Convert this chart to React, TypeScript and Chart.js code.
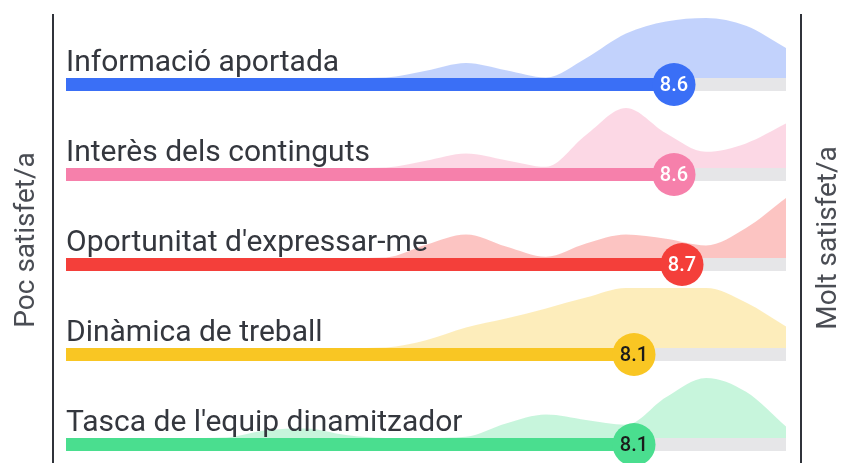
import React, { useEffect, useRef } from "react";
import { Chart, registerables } from "chart.js";

Chart.register(...registerables);

// ---- data ----
const categories = [
  "Informació aportada",
  "Interès dels continguts",
  "Oportunitat d'expressar-me",
  "Dinàmica de treball",
  "Tasca de l'equip dinamitzador",
];
const scores = [8.6, 8.6, 8.7, 8.1, 8.1];
const scaleMin = 1;
const scaleMax = 10;
const sideLabels = ["Poc satisfet/a", "Molt satisfet/a"];

// density sample positions on the 1-10 scale
const densityX = [1, 1.5, 2, 2.5, 3, 3.5, 4, 4.5, 5, 5.5, 6, 6.5, 7, 7.5, 8, 8.5, 9, 9.5, 10];
// relative density (0-100) for each category
const densityInformacio = [0, 0, 0, 0, 0, 0, 0, 0, 1, 12, 25, 13, 1, 33, 74, 94, 100, 87, 50];
const densityInteres = [0, 0, 0, 0, 0, 0, 0, 0, 1, 12, 24, 13, 2, 55, 100, 58, 27, 41, 74];
const densityOportunitat = [0, 0, 0, 0, 0, 0, 0, 0, 1, 22, 39, 19, 2, 24, 39, 32, 21, 50, 100];
const densityDinamica = [0, 0, 0, 0, 0, 0, 0, 0, 1, 13, 34, 49, 66, 84, 100, 100, 100, 76, 36];
const densityTasca = [0, 0, 0, 0, 1, 13, 16, 5, 0, 0, 2, 24, 39, 30, 22, 68, 100, 77, 19];

const densities = [densityInformacio, densityInteres, densityOportunitat, densityDinamica, densityTasca];

// ---- styles ----
const barColors = ["#3a6ff6", "#f680ab", "#f43f3a", "#f9c623", "#4ade8f"];
const areaColors = [
  "rgba(58,111,246,0.31)",
  "rgba(246,128,171,0.31)",
  "rgba(244,63,58,0.31)",
  "rgba(249,198,35,0.31)",
  "rgba(74,222,143,0.31)",
];
const valueTextColors = ["#ffffff", "#ffffff", "#ffffff", "#1b1b1b", "#1b1b1b"];
const trackColor = "#e6e6e8";

const W = 843;
const H = 463;
const ROW_START = 84.5; // px center of first bar
const ROW_GAP = 90;
const BAR_W = 13;
const DENS_H = 60;
const DOT_R = 21.5;

const rowCenter = (i: number) => ROW_START + ROW_GAP * i;
const rowTop = (i: number) => rowCenter(i) - BAR_W / 2;

const decorPlugin = {
  id: "decor",
  afterDatasetsDraw(chart: any) {
    const { ctx, chartArea, scales } = chart;
    const xs = scales.x;
    const ys = scales.y;
    ctx.save();

    // vertical frame lines
    ctx.strokeStyle = "#30333a";
    ctx.lineWidth = 2;
    ctx.beginPath();
    ctx.moveTo(chartArea.left - 13, 14);
    ctx.lineTo(chartArea.left - 13, H);
    ctx.moveTo(chartArea.right + 15, 14);
    ctx.lineTo(chartArea.right + 15, H);
    ctx.stroke();

    // category labels
    ctx.font = "400 30px Roboto";
    ctx.fillStyle = "#34373e";
    ctx.textAlign = "left";
    ctx.textBaseline = "alphabetic";
    categories.forEach((c, i) => {
      ctx.fillText(c, xs.getPixelForValue(scaleMin), ys.getPixelForValue(rowTop(i) - 7));
    });

    // values inside circles
    ctx.font = "500 20px Roboto";
    ctx.textAlign = "center";
    ctx.textBaseline = "middle";
    scores.forEach((s, i) => {
      ctx.fillStyle = valueTextColors[i];
      ctx.fillText(s.toFixed(1), xs.getPixelForValue(s), ys.getPixelForValue(rowCenter(i)) + 1);
    });

    // side labels
    ctx.font = "400 28px Roboto";
    ctx.fillStyle = "#4a4d54";
    ctx.textAlign = "center";
    ctx.textBaseline = "middle";
    ctx.save();
    ctx.translate(27, 240);
    ctx.rotate(-Math.PI / 2);
    ctx.fillText(sideLabels[0], 0, 0);
    ctx.restore();
    ctx.save();
    ctx.translate(829, 238);
    ctx.rotate(-Math.PI / 2);
    ctx.fillText(sideLabels[1], 0, 0);
    ctx.restore();

    ctx.restore();
  },
};

export default function App() {
  const ref = useRef<HTMLCanvasElement | null>(null);

  useEffect(() => {
    if (!ref.current) return;
    const datasets: any[] = [];
    categories.forEach((_, i) => {
      datasets.push({
        type: "line",
        data: densityX.map((x, k) => ({ x, y: rowTop(i) - (densities[i][k] / 100) * DENS_H })),
        fill: { value: rowTop(i) },
        backgroundColor: areaColors[i],
        borderColor: "rgba(0,0,0,0)",
        borderWidth: 0,
        pointRadius: 0,
        cubicInterpolationMode: "monotone",
        order: 4,
      });
      datasets.push({
        type: "line",
        data: [
          { x: scaleMin, y: rowCenter(i) },
          { x: scaleMax, y: rowCenter(i) },
        ],
        borderColor: trackColor,
        borderWidth: BAR_W,
        borderCapStyle: "butt",
        pointRadius: 0,
        fill: false,
        order: 3,
      });
      datasets.push({
        type: "line",
        data: [
          { x: scaleMin, y: rowCenter(i) },
          { x: scores[i], y: rowCenter(i) },
        ],
        borderColor: barColors[i],
        borderWidth: BAR_W,
        borderCapStyle: "butt",
        pointRadius: 0,
        fill: false,
        order: 2,
      });
      datasets.push({
        type: "line",
        data: [{ x: scores[i], y: rowCenter(i) }],
        showLine: false,
        pointRadius: DOT_R,
        pointBackgroundColor: barColors[i],
        pointBorderWidth: 0,
        pointBorderColor: barColors[i],
        clip: false,
        order: 1,
      });
    });

    const chart = new Chart(ref.current, {
      type: "line",
      data: { datasets },
      options: {
        responsive: false,
        animation: false,
        devicePixelRatio: 1,
        events: [],
        layout: { autoPadding: false, padding: { left: 66, right: W - 786, top: 0, bottom: 0 } },
        plugins: { legend: { display: false }, tooltip: { enabled: false } },
        scales: {
          x: { type: "linear", min: scaleMin, max: scaleMax, display: false },
          y: { type: "linear", min: 0, max: H, reverse: true, display: false },
        },
      },
      plugins: [decorPlugin],
    } as any);
    return () => chart.destroy();
  }, []);

  return (
    <div style={{ position: "absolute", left: 0, top: 0, width: W, height: H, background: "#fff" }}>
      <canvas ref={ref} width={W} height={H} style={{ display: "block", width: W, height: H }} />
    </div>
  );
}
